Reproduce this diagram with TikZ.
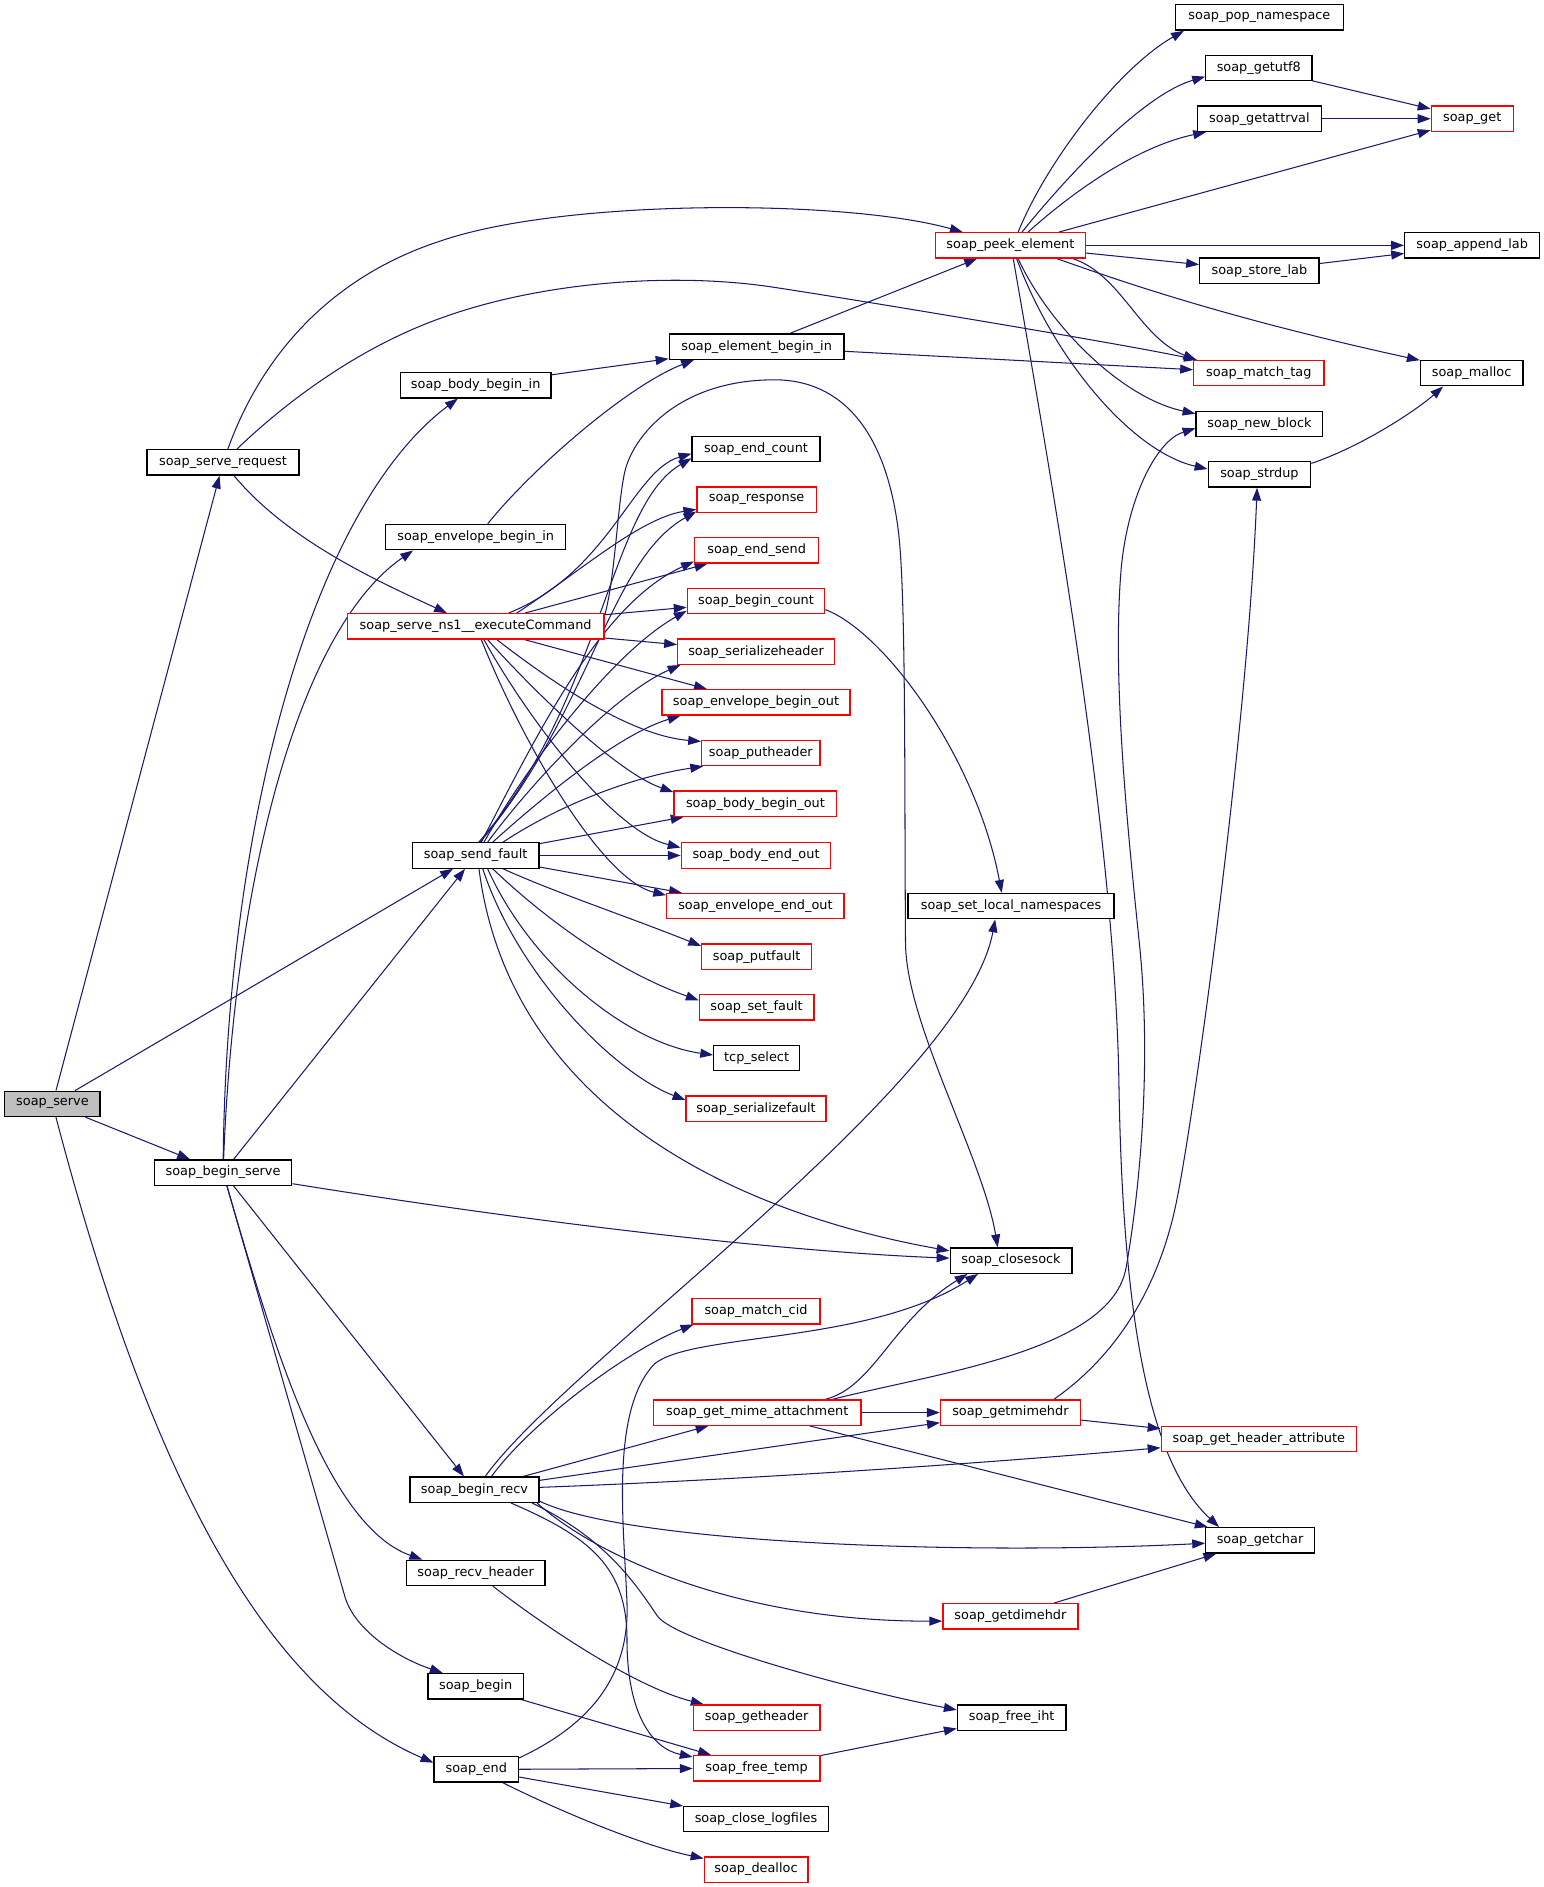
\documentclass[tikz,border=0pt]{standalone}
\usepackage{fontspec}
\setmainfont{DejaVu Sans}
\usetikzlibrary{arrows.meta,backgrounds}
\definecolor{edgeblue}{HTML}{191970}
\definecolor{rootgray}{HTML}{BFBFBF}
\tikzset{
  fn/.style={draw=black, fill=white, line width=0.8pt, inner sep=0pt,
    minimum height=15.75pt, font=\fontsize{8}{9.6}\selectfont, text=black},
  fnred/.style={fn, draw=red},
  fnroot/.style={fn, fill=rootgray},
  wd/.style={minimum width=#1*0.75pt},
  e/.style={draw=edgeblue, line width=0.65pt, -{Triangle[length=8pt,width=5.6pt]}},
}
\begin{document}
\begin{tikzpicture}[x=0.75pt,y=-0.75pt]
\useasboundingbox (0,0) rectangle (1280,1565);
% nodes
\node[fnroot, wd=79] (serve) at (43.5,915.5) {soap\_serve};
\node[fn, wd=126] (sreq) at (185,383.5) {soap\_serve\_request};
\node[fn, wd=114] (bserve) at (185,972.5) {soap\_begin\_serve};
\node[fn, wd=70] (send) at (395,1467.5) {soap\_end};
\node[fn, wd=125] (bbin) at (394.5,319.5) {soap\_body\_begin\_in};
\node[fn, wd=149] (ebin) at (394.5,445.5) {soap\_envelope\_begin\_in};
\node[fnred, wd=213] (exec) at (394.5,519.5) {soap\_serve\_ns1\_\_executeCommand};
\node[fn, wd=105] (sfault) at (394.5,709.5) {soap\_send\_fault};
\node[fn, wd=107] (brecv) at (393.5,1235.5) {soap\_begin\_recv};
\node[fn, wd=115] (rhdr) at (394.5,1304.5) {soap\_recv\_header};
\node[fn, wd=79] (begin) at (394.5,1398.5) {soap\_begin};
\node[fn, wd=145] (elbin) at (627.5,287.5) {soap\_element\_begin\_in};
\node[fn, wd=106] (ecount) at (627,372.5) {soap\_end\_count};
\node[fnred, wd=99] (resp) at (627.5,414.5) {soap\_response};
\node[fnred, wd=103] (esend) at (627.5,456.5) {soap\_end\_send};
\node[fnred, wd=114] (bcount) at (627,498.5) {soap\_begin\_count};
\node[fnred, wd=130] (serhdr) at (627,540.5) {soap\_serializeheader};
\node[fnred, wd=156] (ebout) at (627,582.5) {soap\_envelope\_begin\_out};
\node[fnred, wd=98] (puthdr) at (631,624.5) {soap\_putheader};
\node[fnred, wd=135] (bbout) at (626.5,666.5) {soap\_body\_begin\_out};
\node[fnred, wd=124] (beout) at (627,709.5) {soap\_body\_end\_out};
\node[fnred, wd=147] (eeout) at (626.5,751.5) {soap\_envelope\_end\_out};
\node[fnred, wd=91] (putf) at (627.5,793.5) {soap\_putfault};
\node[fnred, wd=95] (setf) at (627.5,835.5) {soap\_set\_fault};
\node[fn, wd=71] (tcp) at (627.5,877.5) {tcp\_select};
\node[fnred, wd=116] (serf) at (627,919.5) {soap\_serializefault};
\node[fnred, wd=106] (mcid) at (627,1087.5) {soap\_match\_cid};
\node[fnred, wd=172] (gma) at (628,1171.5) {soap\_get\_mime\_attachment};
\node[fnred, wd=105] (ghdr) at (627.5,1424.5) {soap\_getheader};
\node[fnred, wd=105] (ftemp) at (627.5,1466.5) {soap\_free\_temp};
\node[fn, wd=120] (clog) at (627,1508.5) {soap\_close\_logfiles};
\node[fnred, wd=86] (dealloc) at (627,1550.5) {soap\_dealloc};
\node[fnred, wd=124] (peek) at (838,203.5) {soap\_peek\_element};
\node[fn, wd=171] (slns) at (838.5,751.5) {soap\_set\_local\_namespaces};
\node[fn, wd=101] (csock) at (838.5,1045.5) {soap\_closesock};
\node[fnred, wd=116] (gmh) at (838,1171.5) {soap\_getmimehdr};
\node[fnred, wd=112] (gdh) at (838,1340.5) {soap\_getdimehdr};
\node[fn, wd=90] (fiht) at (839,1424.5) {soap\_free\_iht};
\node[fn, wd=139] (popns) at (1044.5,14.5) {soap\_pop\_namespace};
\node[fn, wd=88] (gutf) at (1044,56.5) {soap\_getutf8};
\node[fn, wd=103] (gattr) at (1044.5,98.5) {soap\_getattrval};
\node[fn, wd=99] (slab) at (1044.5,224.5) {soap\_store\_lab};
\node[fnred, wd=108] (mtag) at (1044,309.5) {soap\_match\_tag};
\node[fn, wd=105] (nblk) at (1044.5,351.5) {soap\_new\_block};
\node[fn, wd=85] (sdup) at (1044.5,393.5) {soap\_strdup};
\node[fnred, wd=162] (gha) at (1044,1193.5) {soap\_get\_header\_attribute};
\node[fn, wd=90] (gchar) at (1045,1277.5) {soap\_getchar};
\node[fnred, wd=68] (sget) at (1221,98.5) {soap\_get};
\node[fn, wd=112] (alab) at (1221,203.5) {soap\_append\_lab};
\node[fn, wd=85] (smal) at (1220.5,309.5) {soap\_malloc};
% edges
\begin{pgfonlayer}{background}
\fill[white] (0,0) rectangle (1280,1565);
% soap_serve
\draw[e] (serve) -- (sreq);
\draw[e] (serve) -- (sfault);
\draw[e] (serve) -- (bserve);
\draw[e] (serve) .. controls (125,1226) and (220,1402) .. (send.171);
% soap_serve_request
\draw[e] (sreq) .. controls (215,300) and (270,230) .. (368,199) .. controls (470,165) and (700,165) .. (peek);
\draw[e] (sreq) .. controls (225,345) and (288,291) .. (368,263) .. controls (452,233) and (560,226) .. (640,238) .. controls (700,247) and (930,285) .. (mtag);
\draw[e] (sreq) .. controls (240,450) and (320,485) .. (exec);
% soap_begin_serve
\draw[e] (bserve) .. controls (188,680) and (260,420) .. (bbin);
\draw[e] (bserve) .. controls (195,720) and (250,520) .. (ebin.192);
\draw[e] (bserve) -- (sfault);
\draw[e] (bserve) .. controls (450,1015) and (650,1038) .. (csock);
\draw[e] (bserve) -- (brecv);
\draw[e] (bserve) .. controls (225,1110) and (270,1265) .. (rhdr.166);
\draw[e] (bserve) -- (286,1324) .. controls (294,1352) and (330,1375) .. (begin.158);
% body / envelope begin in
\draw[e] (bbin) -- (elbin);
\draw[e] (ebin.48) .. controls (440,390) and (520,320) .. (elbin.192);
\draw[e] (elbin) -- (peek);
\draw[e] (elbin) -- (mtag);
% soap_peek_element
\draw[e] (peek.60) .. controls (870,130) and (930,55) .. (popns.190);
\draw[e] (peek.49) .. controls (890,140) and (950,78) .. (gutf.189);
\draw[e] (peek.37) .. controls (900,150) and (950,120) .. (gattr.194);
\draw[e] (peek) -- (sget);
\draw[e] (peek) -- (alab);
\draw[e] (peek) -- (slab);
\draw[e] (slab) -- (alab);
\draw[e] (gutf) -- (sget);
\draw[e] (gattr) -- (sget);
\draw[e] (peek.348) .. controls (930,228) and (945,280) .. (mtag.168);
\draw[e] (peek.344) .. controls (910,226) and (1000,260) .. (smal.166);
\draw[e] (peek.300) .. controls (870,270) and (930,330) .. (nblk.171);
\draw[e] (peek.295) .. controls (875,300) and (940,375) .. (sdup.174);
\draw[e] (peek.282) .. controls (877,426) and (925,700) .. (928,900) .. controls (931,1080) and (950,1210) .. (gchar.162);
\draw[e] (sdup.12) .. controls (1130,370) and (1175,340) .. (smal.205);
% executeCommand
\draw[e] (exec.22) .. controls (505,475) and (525,390) .. (ecount.184);
\draw[e] (exec.18) .. controls (480,475) and (530,430) .. (resp);
\draw[e] (exec) -- (esend);
\draw[e] (exec) -- (bcount);
\draw[e] (exec) -- (serhdr);
\draw[e] (exec) -- (ebout);
\draw[e] (exec.328) .. controls (450,560) and (520,610) .. (puthdr.169);
\draw[e] (exec.312) .. controls (440,570) and (510,640) .. (bbout.172);
\draw[e] (exec.302) .. controls (440,600) and (510,690) .. (beout.174);
\draw[e] (exec.293) .. controls (435,620) and (500,730) .. (eeout.173);
\draw[e] (exec.5) .. controls (510,480) and (512,420) .. (518,392) .. controls (524,364) and (560,316) .. (640,315) .. controls (700,314) and (735,360) .. (745,440) .. controls (751.5,492) and (750,650) .. (751,783) .. controls (752,850) and (815,960) .. (csock.135);
% soap_send_fault
\draw[e] (sfault.77) .. controls (500,580) and (505,420) .. (ecount.188);
\draw[e] (sfault.72) .. controls (490,590) and (505,465) .. (resp.191);
\draw[e] (sfault.67) .. controls (450,600) and (500,500) .. (esend.190);
\draw[e] (sfault.58) .. controls (440,630) and (510,540) .. (bcount.188);
\draw[e] (sfault.48) .. controls (440,650) and (510,575) .. (serhdr.190);
\draw[e] (sfault.38) .. controls (440,670) and (510,610) .. (ebout.190);
\draw[e] (sfault.26) .. controls (460,670) and (520,645) .. (puthdr.193);
\draw[e] (sfault) -- (bbout);
\draw[e] (sfault) -- (beout);
\draw[e] (sfault) -- (eeout);
\draw[e] (sfault.334) .. controls (460,740) and (520,760) .. (putf.169);
\draw[e] (sfault.322) .. controls (450,760) and (510,805) .. (setf.173);
\draw[e] (sfault.312) .. controls (440,800) and (520,865) .. (tcp.176);
\draw[e] (sfault.298) .. controls (430,810) and (510,890) .. (serf.173);
\draw[e] (sfault.284) .. controls (420,900) and (580,1000) .. (csock.171);
% soap_begin_recv
\draw[e] (brecv.51) .. controls (470,1130) and (800,900) .. (slns.220);
\draw[e] (brecv.38) .. controls (440,1180) and (520,1120) .. (mcid.192);
\draw[e] (brecv) -- (gma);
\draw[e] (brecv) -- (gmh);
\draw[e] (brecv) .. controls (600,1228) and (800,1215) .. (gha);
\draw[e] (brecv.350) .. controls (520,1280) and (800,1290) .. (gchar.183);
\draw[e] (brecv.348) .. controls (500,1295) and (620,1345) .. (gdh.184);
\draw[e] (brecv.347) .. controls (500,1275) and (525,1310) .. (545,1340) .. controls (558,1360) and (700,1400) .. (fiht.172);
\draw[e] (brecv.340) .. controls (490,1275) and (520,1300) .. (520,1360) .. controls (520,1420) and (540,1450) .. (ftemp.170);
% recv_header, begin, end
\draw[e] (rhdr) .. controls (460,1355) and (530,1400) .. (ghdr);
\draw[e] (begin) -- (ftemp);
\draw[e] (send) -- (ftemp);
\draw[e] (send) -- (clog);
\draw[e] (send) .. controls (460,1500) and (530,1530) .. (dealloc);
\draw[e] (send.15) .. controls (490,1430) and (522,1390) .. (520,1330) .. controls (518,1270) and (505,1170) .. (543,1131) .. controls (575,1105) and (720,1115) .. (csock.202);
% get_mime_attachment
\draw[e] (gma.11) .. controls (725,1150) and (740,1095) .. (csock.197);
\draw[e] (gma.10) .. controls (780,1138) and (922,1120) .. (934,1051) .. controls (946,982) and (955,880) .. (945,783) .. controls (935,686) and (922,560) .. (930,470) .. controls (936,410) and (960,365) .. (nblk.184);
\draw[e] (gma) -- (gmh);
\draw[e] (gma) -- (gchar);
\draw[e] (gmh) -- (gha);
\draw[e] (gmh.17) .. controls (925,1125) and (960,1070) .. (975,1000) .. controls (990,930) and (1035,600) .. (sdup.260);
\draw[e] (gdh) -- (gchar);
\draw[e] (ftemp) -- (fiht);
% begin_count
\draw[e] (bcount.353) .. controls (735,525) and (810,630) .. (slns.125);
\end{pgfonlayer}
\end{tikzpicture}
\end{document}
